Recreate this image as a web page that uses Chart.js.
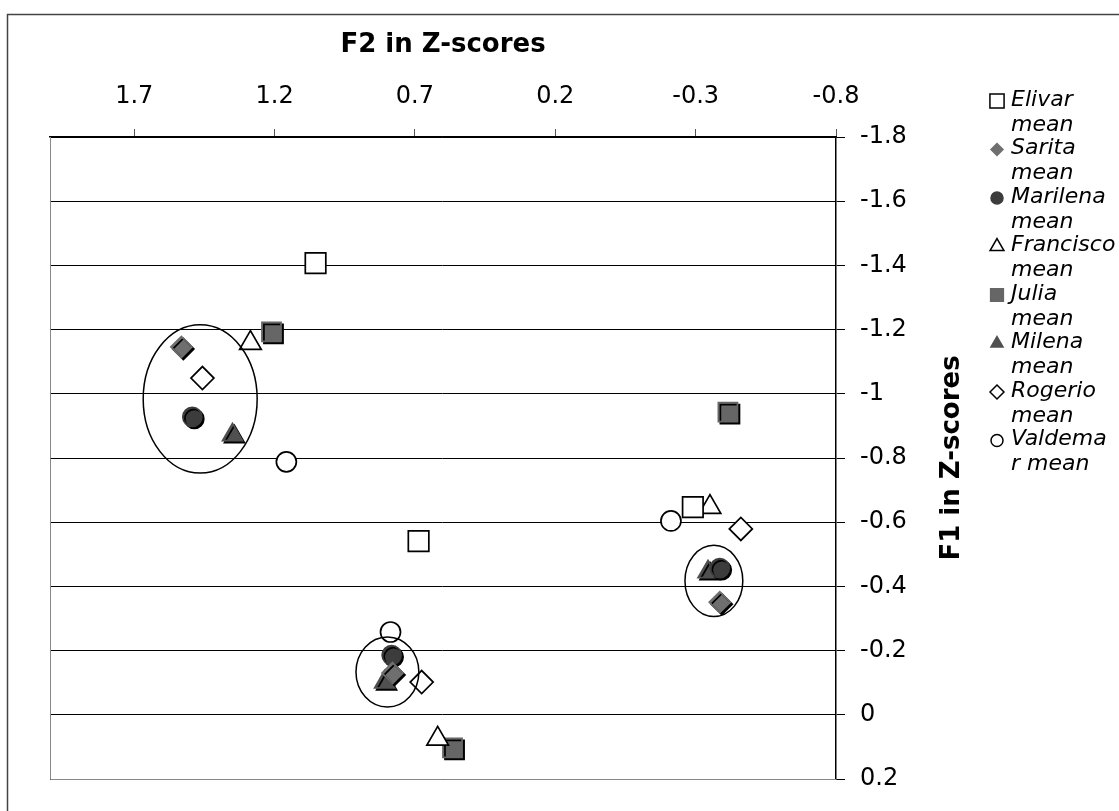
<!DOCTYPE html>
<html>
<head>
<meta charset="utf-8">
<script src="https://cdn.jsdelivr.net/npm/chart.js@4.4.0/dist/chart.umd.min.js"></script>
<style>
html, body { margin: 0; padding: 0; background: #fff; overflow: hidden; }
#wrap { width: 1119px; height: 811px; }
</style>
</head>
<body>
<div id="wrap"><canvas id="graph" width="1119" height="811"></canvas></div>
<script>
// series names + legend text (the legend wraps them like the original)
const seriesNames = ['Elivar mean', 'Sarita mean', 'Marilena mean', 'Francisco mean',
    'Julia mean', 'Milena mean', 'Rogerio mean', 'Valdemar mean'];
const legendLines = [['Elivar', 'mean'], ['Sarita', 'mean'], ['Marilena', 'mean'], ['Francisco', 'mean'],
    ['Julia', 'mean'], ['Milena', 'mean'], ['Rogerio', 'mean'], ['Valdema', 'r mean']];

const xTicks = [1.7, 1.2, 0.7, 0.2, -0.3, -0.8];
const yTicks = [-1.8, -1.6, -1.4, -1.2, -1, -0.8, -0.6, -0.4, -0.2, 0, 0.2];

// F2 (x) and F1 (y) per speaker, three groups each
const elivarX = [1.054, 0.687, -0.290];
const elivarY = [-1.407, -0.541, -0.647];
const saritaX = [1.532, 0.780, -0.386];
const saritaY = [-1.146, -0.130, -0.351];
const marilenaX = [1.493, 0.783, -0.386];
const marilenaY = [-0.928, -0.186, -0.457];
const franciscoX = [1.286, 0.619, -0.351];
const franciscoY = [-1.158, 0.075, -0.647];
const juliaX = [1.211, 0.566, -0.415];
const juliaY = [-1.193, 0.103, -0.943];
const milenaX = [1.350, 0.808, -0.344];
const milenaY = [-0.872, -0.102, -0.445];
const rogerioX = [1.457, 0.676, -0.461];
const rogerioY = [-1.049, -0.102, -0.579];
const valdemarX = [1.158, 0.787, -0.212];
const valdemarY = [-0.788, -0.258, -0.604];

// ellipses round the three clusters (centre and half axes, in data units)
const ellipseX = [1.465, 0.798, -0.365];
const ellipseY = [-0.984, -0.133, -0.417];
const ellipseRX = [0.203, 0.112, 0.103];
const ellipseRY = [0.231, 0.109, 0.111];

const fam = '"DejaVu Sans", Verdana, sans-serif';

function pts(xs, ys) {
    return xs.map((x, i) => ({ x: x, y: ys[i] }));
}

// marker look per series
const styles = [
    { ps: 'rect', r: 14.5, fill: '#fff', line: '#000', filled: false, lr: 10 },
    { ps: 'rectRot', r: 10.5, fill: '#6f6f6f', line: '#6f6f6f', filled: true, lr: 6 },
    { ps: 'circle', r: 9.5, fill: '#3c3c3c', line: '#3c3c3c', filled: true, lr: 6 },
    { ps: 'triangle', r: 12.5, fill: '#fff', line: '#000', filled: false, lr: 8 },
    { ps: 'rect', r: 13.5, fill: '#666', line: '#666', filled: true, lr: 9 },
    { ps: 'triangle', r: 11.5, fill: '#505050', line: '#505050', filled: true, lr: 7 },
    { ps: 'rectRot', r: 11.5, fill: '#fff', line: '#000', filled: false, lr: 7 },
    { ps: 'circle', r: 10, fill: '#fff', line: '#000', filled: false, lr: 6 }
];

const allData = [
    pts(elivarX, elivarY), pts(saritaX, saritaY), pts(marilenaX, marilenaY), pts(franciscoX, franciscoY),
    pts(juliaX, juliaY), pts(milenaX, milenaY), pts(rogerioX, rogerioY), pts(valdemarX, valdemarY)
];

const datasets = allData.map((d, i) => ({
    label: seriesNames[i],
    data: d,
    pointStyle: styles[i].ps,
    pointRadius: styles[i].r,
    pointHoverRadius: styles[i].r,
    pointBackgroundColor: styles[i].fill,
    pointBorderColor: styles[i].line,
    pointBorderWidth: 1.7,
    showLine: false
}));

function fmt(v) {
    return String(Math.round(v * 10) / 10);
}

function marker(ctx, st, r, x, y) {
    ctx.fillStyle = st.fill;
    ctx.strokeStyle = st.line;
    ctx.lineWidth = 1.5;
    if (Chart.helpers && Chart.helpers.drawPoint) {
        Chart.helpers.drawPoint(ctx, { pointStyle: st.ps, rotation: 0, radius: r, borderWidth: 1.5 }, x, y);
    } else {
        ctx.beginPath();
        ctx.arc(x, y, r, 0, Math.PI * 2);
        ctx.fill();
        ctx.stroke();
    }
}

const extras = {
    id: 'extras',
    beforeDraw(chart) {
        const ctx = chart.ctx;
        ctx.save();
        ctx.fillStyle = '#fff';
        ctx.fillRect(0, 0, chart.width, chart.height);
        ctx.strokeStyle = '#444';
        ctx.lineWidth = 1.5;
        ctx.strokeRect(7.5, 14.5, chart.width + 20, chart.height + 20);
        ctx.restore();
    },
    beforeDatasetDraw(chart, args) {
        if (styles[args.index].filled) {
            const ctx = chart.ctx;
            ctx.save();
            ctx.shadowColor = '#000';
            ctx.shadowOffsetX = 2;
            ctx.shadowOffsetY = 2;
            ctx.shadowBlur = 0;
        }
    },
    afterDatasetDraw(chart, args) {
        if (styles[args.index].filled) chart.ctx.restore();
    },
    afterDatasetsDraw(chart) {
        const ctx = chart.ctx;
        const sx = chart.scales.x, sy = chart.scales.y;
        const a = chart.chartArea;
        ctx.save();
        // left and bottom edge of plot area
        ctx.strokeStyle = '#888';
        ctx.lineWidth = 1;
        ctx.beginPath();
        ctx.moveTo(a.left + 0.5, a.top);
        ctx.lineTo(a.left + 0.5, a.bottom + 0.5);
        ctx.lineTo(a.right, a.bottom + 0.5);
        ctx.stroke();
        // cluster ellipses
        ctx.strokeStyle = '#000';
        ctx.lineWidth = 1.5;
        for (let i = 0; i < ellipseX.length; i++) {
            const cx = sx.getPixelForValue(ellipseX[i]);
            const cy = sy.getPixelForValue(ellipseY[i]);
            const rx = Math.abs(sx.getPixelForValue(ellipseX[i] + ellipseRX[i]) - cx);
            const ry = Math.abs(sy.getPixelForValue(ellipseY[i] + ellipseRY[i]) - cy);
            ctx.beginPath();
            ctx.ellipse(cx, cy, rx, ry, 0, 0, Math.PI * 2);
            ctx.stroke();
        }
        ctx.restore();
    },
    afterDraw(chart) {
        const ctx = chart.ctx;
        const a = chart.chartArea;
        ctx.save();
        // y axis title, reading upwards
        ctx.translate(952, (a.top + a.bottom) / 2);
        ctx.rotate(-Math.PI / 2);
        ctx.font = 'bold 26px ' + fam;
        ctx.fillStyle = '#000';
        ctx.textAlign = 'center';
        ctx.textBaseline = 'middle';
        ctx.fillText('F1 in Z-scores', 0, 0);
        ctx.restore();

        // legend
        ctx.save();
        ctx.font = 'italic 22px ' + fam;
        ctx.textBaseline = 'middle';
        ctx.textAlign = 'left';
        for (let i = 0; i < legendLines.length; i++) {
            const y = 100 + i * 48.5;
            marker(ctx, styles[i], styles[i].lr, 997, y + 1);
            ctx.fillStyle = '#000';
            ctx.fillText(legendLines[i][0], 1011, y);
            ctx.fillText(legendLines[i][1], 1011, y + 25);
        }
        ctx.restore();
    }
};

const graph = document.getElementById('graph');

new Chart(graph, {
    type: 'scatter',
    data: { datasets: datasets },
    options: {
        responsive: false,
        animation: false,
        devicePixelRatio: 1,
        layout: { padding: { left: 50, right: 213, top: 0, bottom: 32 } },
        plugins: {
            legend: { display: false },
            tooltip: { enabled: false }
        },
        scales: {
            x: {
                type: 'linear',
                position: 'top',
                reverse: true,
                min: -0.8,
                max: 2.0,
                afterBuildTicks: s => { s.ticks = xTicks.map(v => ({ value: v })); },
                afterFit: s => { s.height = 137; },
                ticks: {
                    font: { family: fam, size: 24 },
                    color: '#000',
                    padding: 18,
                    maxRotation: 0,
                    autoSkip: false,
                    callback: v => fmt(v)
                },
                grid: { drawOnChartArea: false, drawTicks: true, tickLength: 8, color: '#555', lineWidth: 1 },
                border: { display: true, color: '#000', width: 1.5 },
                title: {
                    display: true,
                    text: 'F2 in Z-scores',
                    color: '#000',
                    font: { family: fam, size: 26, weight: 'bold' },
                    padding: { top: 30, bottom: 0 }
                }
            },
            y: {
                type: 'linear',
                position: 'right',
                reverse: true,
                min: -1.8,
                max: 0.2,
                afterBuildTicks: s => { s.ticks = yTicks.map(v => ({ value: v })); },
                afterFit: s => { s.width = 70; },
                ticks: {
                    font: { family: fam, size: 24 },
                    color: '#000',
                    padding: 15,
                    autoSkip: false,
                    callback: v => fmt(v)
                },
                grid: { color: '#000', lineWidth: 1, tickLength: 9, drawTicks: true },
                border: { display: true, color: '#000', width: 1.5 }
            }
        }
    },
    plugins: [extras]
});
</script>
</body>
</html>
